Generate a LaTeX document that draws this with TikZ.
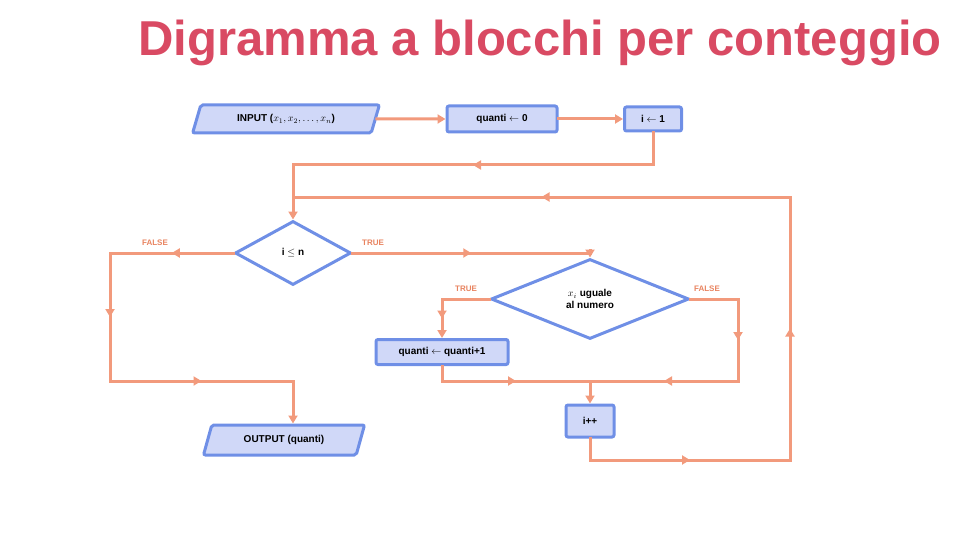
\documentclass[tikz,border=0pt]{standalone}
\usepackage{fontspec}
\setmainfont{Liberation Sans}
\usetikzlibrary{shapes.geometric,arrows.meta,decorations.markings}
\definecolor{tblue}{HTML}{6F8FE6}
\definecolor{tfill}{HTML}{D0D8F8}
\definecolor{tline}{HTML}{F29A7C}
\definecolor{tlabel}{HTML}{E8835F}
\definecolor{ttitle}{HTML}{D94A63}
\tikzset{
  box/.style={draw=tblue, fill=tfill, line width=3pt, rounded corners=2pt,
    font=\fontsize{10}{11}\selectfont\bfseries, inner sep=3pt},
  io/.style={box, trapezium, trapezium left angle=72, trapezium right angle=108,
    trapezium stretches=true},
  dec/.style={draw=tblue, fill=white, line width=3pt, diamond,
    font=\fontsize{10}{12}\selectfont\bfseries, inner sep=1pt, align=center},
  conn/.style={draw=tline, line width=3pt, line cap=rect},
  arr/.style={-{Triangle[length=8pt,width=9pt]}},
  mid/.style={postaction={decorate}, decoration={markings,
    mark=at position 0.5 with {\arrow{Triangle[length=8pt,width=9pt]}}}},
  lab/.style={text=tlabel, font=\fontsize{8}{9}\selectfont\bfseries},
}
\begin{document}
\begin{tikzpicture}[x=1pt,y=-1pt]
\useasboundingbox (0,0) rectangle (960,540);
\node[text=ttitle, font=\fontsize{49}{54}\selectfont\bfseries] (title) at (540,43) {Digramma a blocchi per conteggio};

% nodes
\node[io, minimum width=187pt, minimum height=28pt] (in) at (286,119) {INPUT ($x_1, x_2, \dots, x_n$)};
\node[box, minimum width=110pt, minimum height=26pt] (q0) at (502,119) {quanti $\leftarrow$ 0};
\node[box, minimum width=57pt, minimum height=24pt] (i1) at (653,119) {i $\leftarrow$ 1};
\node[dec, minimum width=116pt, minimum height=64pt] (d1) at (293,253) {i $\le$ n};
\node[dec, minimum width=198pt, minimum height=80pt] (d2) at (590,299) {$x_i$ uguale\\al numero};
\node[box, minimum width=132pt, minimum height=25pt] (qq) at (442,352) {quanti $\leftarrow$ quanti+1};
\node[box, minimum width=48pt, minimum height=32pt] (inc) at (590,421) {i++};
\node[io, minimum width=162pt, minimum height=30pt] (out) at (284,440) {OUTPUT (quanti)};

% coordinates
\coordinate (c1) at (653,165);
\coordinate (c2) at (293,165);
\coordinate (l1) at (790,460);
\coordinate (l2) at (790,197);
\coordinate (l3) at (293,197);
\coordinate (f1) at (110,253);
\coordinate (f2) at (110,381);
\coordinate (f3) at (293,381);
\coordinate (t1) at (590,253);
\coordinate (h1) at (738,299);
\coordinate (h2) at (738,381);
\coordinate (h3) at (590,381);

% connectors
\draw[conn,arr] (in) -- (q0);
\draw[conn,arr] (q0) -- (i1);
\draw[conn] (i1.south) -- (c1);
\draw[conn,mid] (c1) -- (c2);
\draw[conn,arr] (c2) -- (d1.north);

\draw[conn] (inc.south) -- (inc.south |- l1);
\draw[conn,mid] (inc.south |- l1) -- (l1);
\draw[conn,mid] (l1) -- (l2);
\draw[conn,mid] (l2) -- (l3);

\draw[conn,mid] (d1.west) -- (f1);
\draw[conn,mid] (f1) -- (f2);
\draw[conn,mid] (f2) -- (f3);
\draw[conn,arr] (f3) -- (f3 |- out.north);

\draw[conn,mid] (d1.east) -- (t1);
\draw[conn,arr] (t1) -- (d2.north);

\draw[conn] (d2.west) -- (qq.north |- d2.west);
\draw[conn,arr,mid] (qq.north |- d2.west) -- (qq.north);

\draw[conn] (d2.east) -- (h1);
\draw[conn,mid] (h1) -- (h2);
\draw[conn,mid] (h2) -- (h3);
\draw[conn] (qq.south) -- (qq.south |- h3);
\draw[conn,mid] (qq.south |- h3) -- (h3);
\draw[conn,arr] (h3) -- (inc.north);

% labels
\node[lab] (lf1) at (155,243) {FALSE};
\node[lab] (lt1) at (373,243) {TRUE};
\node[lab] (lt2) at (466,289) {TRUE};
\node[lab] (lf2) at (707,289) {FALSE};
\end{tikzpicture}
\end{document}
